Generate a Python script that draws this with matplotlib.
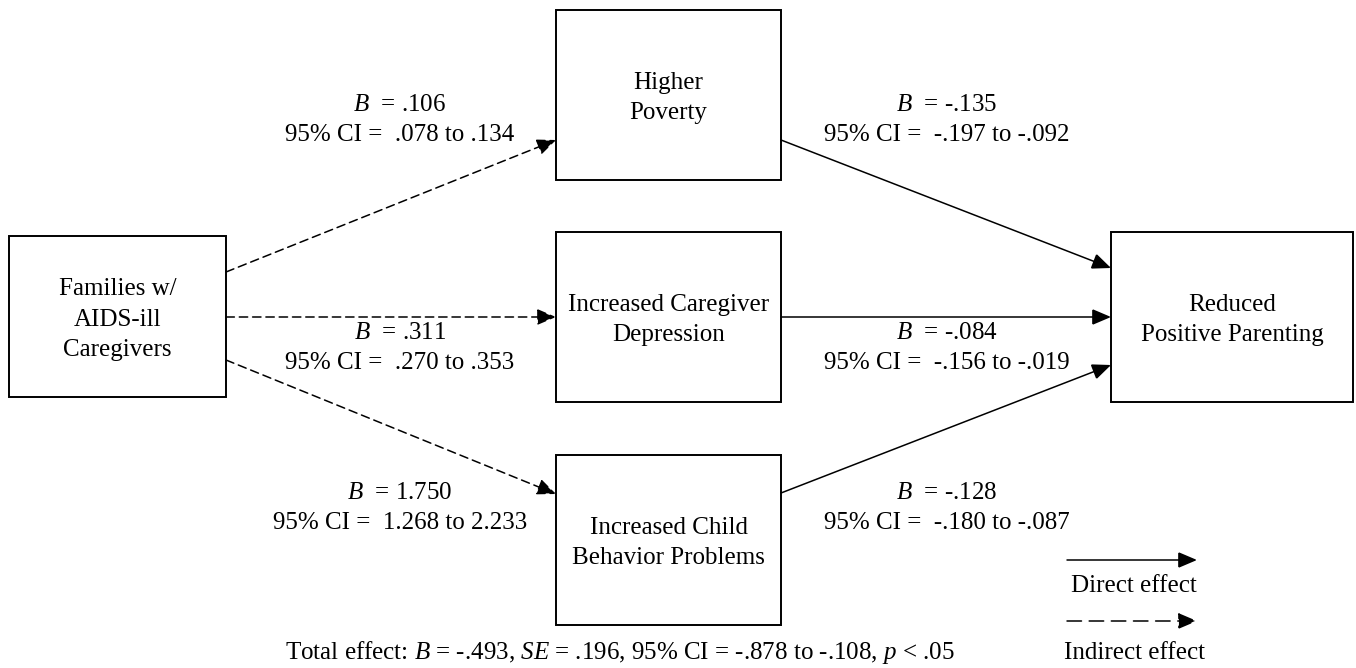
import matplotlib
matplotlib.use('Agg')
import matplotlib.pyplot as plt
from matplotlib.patches import Rectangle, FancyArrowPatch

plt.rcParams['font.family'] = 'Liberation Serif'
plt.rcParams['mathtext.fontset'] = 'custom'
plt.rcParams['mathtext.rm'] = 'Liberation Serif'
plt.rcParams['mathtext.it'] = 'Liberation Serif:italic'

# node labels
nodes = ['Families w/\nAIDS-ill\nCaregivers', 'Higher\nPoverty',
         'Increased Caregiver\nDepression', 'Increased Child\nBehavior Problems',
         'Reduced\nPositive Parenting']

# path coefficients and CIs
path_B = ['.106', '.311', '1.750', '-.135', '-.084', '-.128']
path_ci = ['.078 to .134', '.270 to .353', '1.268 to 2.233',
           '-.197 to -.092', '-.156 to -.019', '-.180 to -.087']
path_direct = [False, False, False, True, True, True]

total_text = (r'Total effect: $B$ = -.493, $SE$ = .196, 95% CI = -.878 to -.108, '
              r'$p$ < .05')

# layout (pixel coordinates, y downward)
boxes = [(9, 236, 226, 397), (556, 10, 781, 180), (556, 232, 781, 402),
         (556, 455, 781, 625), (1111, 232, 1353, 402)]
arrows = [((226, 272), (556, 140)), ((226, 317), (556, 317)),
          ((226, 360), (556, 494)), ((781, 140), (1111, 268)),
          ((781, 317), (1111, 317)), ((781, 493), (1111, 365))]
label_pos = [(400, 105), (400, 333), (400, 493),
             (947, 105), (947, 333), (947, 493)]

fig = plt.figure(figsize=(13.56, 6.68), dpi=100)
ax = fig.add_axes([0, 0, 1, 1])
ax.set_xlim(0, 1356)
ax.set_ylim(668, 0)
ax.axis('off')

fs = 18
head = '-|>,head_length=0.4,head_width=0.17'


def draw_arrow(p0, p1, direct, dash=(0, (5.5, 3.2))):
    ax.add_patch(FancyArrowPatch(p0, p1, arrowstyle=head, mutation_scale=29,
                                 lw=1.1, color='black', shrinkA=0, shrinkB=0,
                                 linestyle='-' if direct else dash,
                                 joinstyle='miter'))


for (x0, y0, x1, y1), txt in zip(boxes, nodes):
    ax.add_patch(Rectangle((x0, y0), x1 - x0, y1 - y0, fill=False,
                           ec='black', lw=1.4))
    ax.text((x0 + x1) / 2, (y0 + y1) / 2 + 3, txt, ha='center', va='center',
            fontsize=fs, linespacing=1.48)

for (p0, p1), d in zip(arrows, path_direct):
    draw_arrow(p0, p1, d)

for (x, y), b, ci in zip(label_pos, path_B, path_ci):
    ax.text(x, y, r'$B$  = ' + b, ha='center', va='center', fontsize=fs)
    ax.text(x, y + 30, '95% CI =  ' + ci, ha='center', va='center', fontsize=fs)

# legend
draw_arrow((1067, 560), (1197, 560), True)
draw_arrow((1067, 621), (1197, 621), False, dash=(0, (9.5, 5)))
ax.text(1134, 586, 'Direct effect', ha='center', va='center', fontsize=fs)
ax.text(1134, 653, 'Indirect effect', ha='center', va='center', fontsize=fs)

ax.text(620, 653, total_text, ha='center', va='center', fontsize=fs)

fig.savefig('out.png', dpi=100)
